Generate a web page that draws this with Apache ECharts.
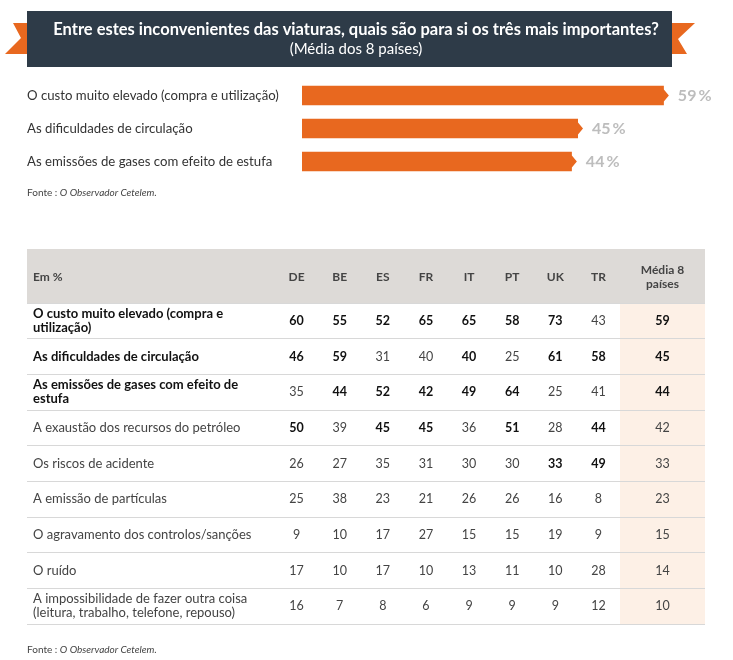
<!DOCTYPE html>
<html lang="pt">
<head>
    <meta charset="UTF-8">
    <title>Inconvenientes das viaturas</title>
    <script src="https://cdn.jsdelivr.net/npm/echarts@6/dist/echarts.min.js"></script>
    <style>
        html, body {margin: 0; padding: 0; background: #fff;}
        #chartmain {width: 733px; height: 660px;}
    </style>
</head>
<body>
<div id="chartmain"></div>
<script>
    // gráfico de barras (média dos 8 países)
    var topLabels = ['O custo muito elevado (compra e utilização)', 'As dificuldades de circulação', 'As emissões de gases com efeito de estufa'];
    var topValues = [59, 45, 44];

    // tabela
    var countries = ['DE', 'BE', 'ES', 'FR', 'IT', 'PT', 'UK', 'TR'];
    var mediaHeader = ['Média 8\npaíses'];
    var items = [
        'O custo muito elevado (compra e\nutilização)',
        'As dificuldades de circulação',
        'As emissões de gases com efeito de\nestufa',
        'A exaustão dos recursos do petróleo',
        'Os riscos de acidente',
        'A emissão de partículas',
        'O agravamento dos controlos/sanções',
        'O ruído',
        'A impossibilidade de fazer outra coisa\n(leitura, trabalho, telefone, repouso)'
    ];
    var DE = [60, 46, 35, 50, 26, 25, 9, 17, 16];
    var BE = [55, 59, 44, 39, 27, 38, 10, 10, 7];
    var ES = [52, 31, 52, 45, 35, 23, 17, 17, 8];
    var FR = [65, 40, 42, 45, 31, 21, 27, 10, 6];
    var IT = [65, 40, 49, 36, 30, 26, 15, 13, 9];
    var PT = [58, 25, 64, 51, 30, 26, 15, 11, 9];
    var UK = [73, 61, 25, 28, 33, 16, 19, 10, 9];
    var TR = [43, 58, 41, 44, 49, 8, 9, 28, 12];
    var media = [59, 45, 44, 42, 33, 23, 15, 14, 10];
    var boldRows = 3; // os três primeiros itens em negrito

    var FONT = 'Lato, "Open Sans", sans-serif';
    var ORANGE = '#e8681f';

    // os 3 maiores de cada coluna ficam a negrito
    function top3(col) {
        var s = col.slice().sort(function (a, b) { return b - a; });
        return col.map(function (v) { return v >= s[2] ? 1 : 0; });
    }

    var columns = [DE, BE, ES, FR, IT, PT, UK, TR];
    var cellData = [];
    columns.forEach(function (col, ci) {
        var b = top3(col);
        col.forEach(function (v, ri) { cellData.push([ci, ri, v, b[ri]]); });
    });
    var mb = top3(media);
    var mediaData = media.map(function (v, ri) { return [0, ri, v, mb[ri]]; });
    var barData = topValues.map(function (v, i) { return [v, i]; });

    function cellText(params, api) {
        var p = api.coord([api.value(0), api.value(1)]);
        return {
            type: 'text', x: p[0], y: p[1],
            style: {
                text: String(api.value(2)), align: 'center', verticalAlign: 'middle',
                fontFamily: FONT, fontSize: 12.5, fontWeight: api.value(3) ? 'bold' : 'normal',
                fill: api.value(3) ? '#111' : '#444'
            }
        };
    }

    var fonteRich = {
        n: {fontFamily: FONT, fontSize: 10, fill: '#444'},
        i: {fontFamily: FONT, fontSize: 10, fontStyle: 'italic', fill: '#444'}
    };

    var tableY = {
        type: 'category', inverse: true, data: items,
        axisLine: {show: false}, axisTick: {show: false},
        splitLine: {show: true, interval: 0, lineStyle: {color: '#d8d8d8', width: 1}}
    };

    var option = {
        animation: false,
        title: {
            text: 'Entre estes inconvenientes das viaturas, quais são para si os três mais importantes?',
            subtext: '(Média dos 8 países)',
            left: 351, top: 16, textAlign: 'center', itemGap: 4,
            textStyle: {color: '#fff', fontFamily: FONT, fontSize: 16.5, fontWeight: 'bold'},
            subtextStyle: {color: '#fff', fontFamily: FONT, fontSize: 15}
        },
        graphic: [
            {type: 'polygon', z: 0, shape: {points: [[13, 23], [28, 23], [28, 54], [5, 54], [21, 38]]}, style: {fill: ORANGE}},
            {type: 'polygon', z: 0, shape: {points: [[671, 23], [695, 23], [678, 39], [687, 54], [671, 54]]}, style: {fill: ORANGE}},
            {type: 'rect', z: 1, shape: {x: 27, y: 11, width: 645, height: 56}, style: {fill: '#2e3b48'}},
            {type: 'text', x: 27, y: 193, style: {text: '{n|Fonte : }{i|O Observador Cetelem.}', rich: fonteRich, verticalAlign: 'middle'}},
            {type: 'rect', z: -1, shape: {x: 27, y: 249, width: 678, height: 54}, style: {fill: '#dddad7'}},
            {type: 'text', x: 33, y: 277, style: {text: 'Em %', fontFamily: FONT, fontSize: 12, fontWeight: 'bold', fill: '#444', verticalAlign: 'middle'}},
            {type: 'text', x: 27, y: 650, style: {text: '{n|Fonte : }{i|O Observador Cetelem.}', rich: fonteRich, verticalAlign: 'middle'}}
        ],
        grid: [
            {left: 302, width: 368, top: 79, height: 99},
            {left: 27, width: 248, top: 303, height: 321},
            {left: 275, width: 345, top: 303, height: 321},
            {left: 620, width: 85, top: 303, height: 321, show: true, backgroundColor: '#fdf0e6', borderWidth: 0}
        ],
        xAxis: [
            {gridIndex: 0, type: 'value', min: 0, max: 60, show: false},
            {gridIndex: 1, type: 'category', data: [''], show: false},
            {gridIndex: 2, type: 'category', position: 'top', data: countries,
                axisLine: {show: false}, axisTick: {show: false},
                axisLabel: {interval: 0, margin: 26, verticalAlign: 'middle', fontFamily: FONT, fontSize: 12, fontWeight: 'bold', color: '#444'}},
            {gridIndex: 3, type: 'category', position: 'top', data: mediaHeader,
                axisLine: {show: false}, axisTick: {show: false},
                axisLabel: {interval: 0, margin: 26, verticalAlign: 'middle', lineHeight: 14, align: 'center', fontFamily: FONT, fontSize: 12, fontWeight: 'bold', color: '#444'}}
        ],
        yAxis: [
            {gridIndex: 0, type: 'category', inverse: true, data: topLabels,
                axisLine: {show: false}, axisTick: {show: false},
                axisLabel: {margin: 275, align: 'left', fontFamily: FONT, fontSize: 13.2, color: '#333'}},
            Object.assign({gridIndex: 1}, tableY, {
                axisLabel: {
                    inside: true, margin: 6, interval: 0,
                    formatter: function (v, i) { return (i < boldRows ? '{b|' : '{n|') + v + '}'; },
                    rich: {
                        b: {fontFamily: FONT, fontSize: 13, fontWeight: 'bold', color: '#111', lineHeight: 14},
                        n: {fontFamily: FONT, fontSize: 13, color: '#444', lineHeight: 14}
                    }
                }
            }),
            Object.assign({gridIndex: 2}, tableY, {axisLabel: {show: false}}),
            Object.assign({gridIndex: 3}, tableY, {axisLabel: {show: false}})
        ],
        series: [
            {
                type: 'custom', xAxisIndex: 0, yAxisIndex: 0, data: barData,
                encode: {x: 0, y: 1},
                renderItem: function (params, api) {
                    var p0 = api.coord([0, api.value(1)]);
                    var p1 = api.coord([api.value(0), api.value(1)]);
                    var y = p0[1], h = 19.5;
                    return {
                        type: 'group',
                        children: [
                            {type: 'polygon', shape: {points: [
                                [p0[0], y - h / 2], [p1[0], y - h / 2], [p1[0], y - 6], [p1[0] + 5, y],
                                [p1[0], y + 6], [p1[0], y + h / 2], [p0[0], y + h / 2]
                            ]}, style: {fill: ORANGE}},
                            {type: 'text', x: p1[0] + 14, y: y, style: {
                                text: api.value(0) + '\u2009%', verticalAlign: 'middle',
                                fontFamily: FONT, fontSize: 16, fontWeight: 'bold', fill: '#bdbdbd'
                            }}
                        ]
                    };
                }
            },
            {type: 'custom', xAxisIndex: 2, yAxisIndex: 2, data: cellData, encode: {x: 0, y: 1}, renderItem: cellText},
            {type: 'custom', xAxisIndex: 3, yAxisIndex: 3, data: mediaData, encode: {x: 0, y: 1}, renderItem: cellText}
        ]
    };

    var myChart = echarts.init(document.getElementById('chartmain'));
    myChart.setOption(option);
</script>
</body>
</html>
